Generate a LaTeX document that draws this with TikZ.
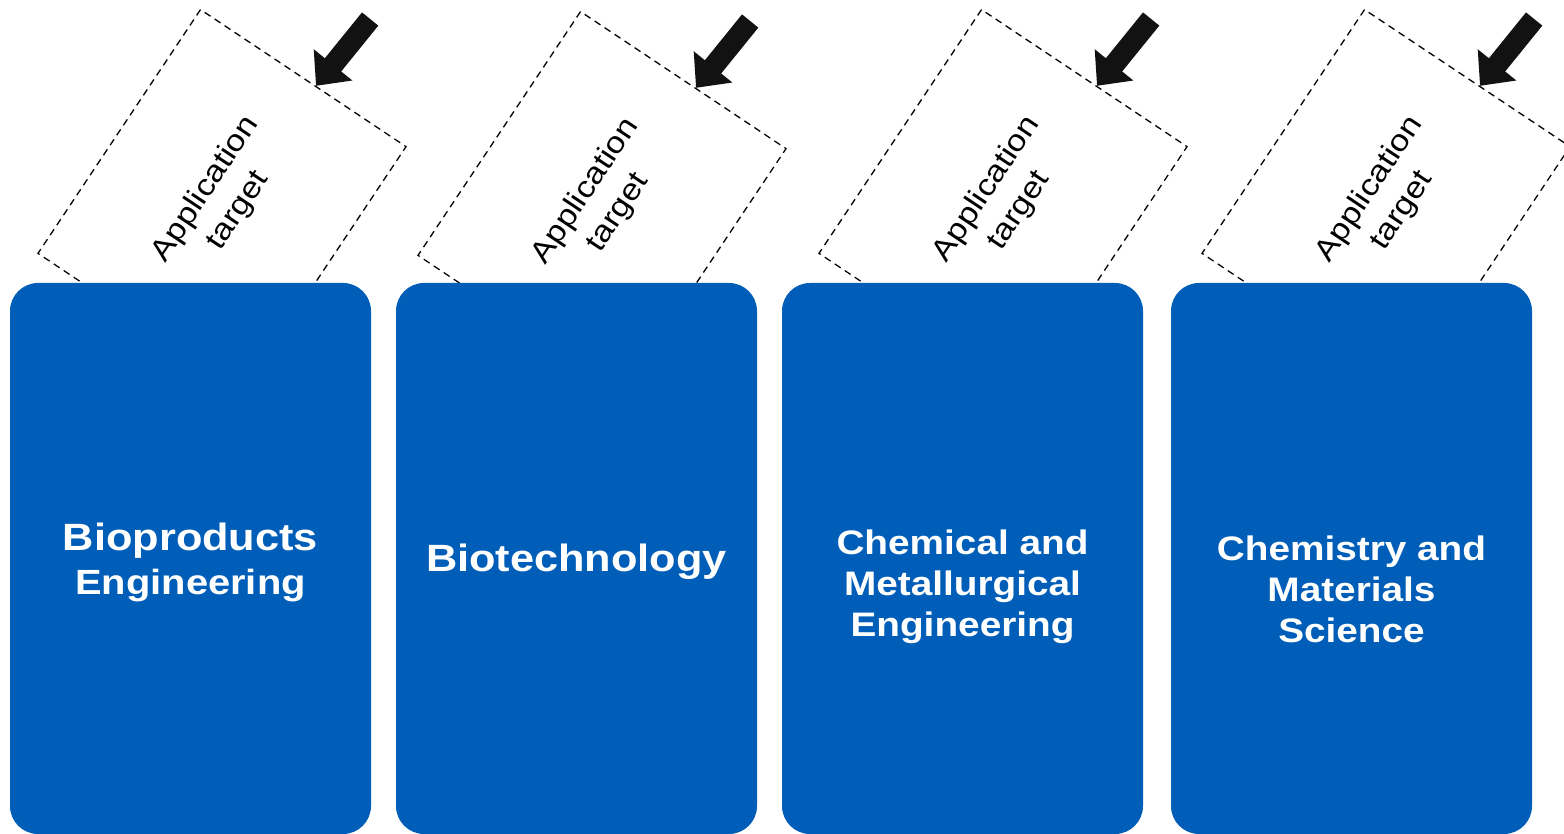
\documentclass[tikz,border=0pt]{standalone}
\usepackage{fontspec}
\setmainfont{Liberation Sans}[FakeStretch=1.14]
\usepackage{tikz}
\usetikzlibrary{arrows.meta,positioning,calc}
\definecolor{fieldblue}{RGB}{0,94,184}

\begin{document}
\begin{tikzpicture}[
    x=1pt, y=1pt,
    node distance=386pt,
    field/.style={
		rectangle,
		rounded corners=28pt,
		draw=none,
		fill=fieldblue,
		minimum width=361pt,
		minimum height=551pt
	},
	fieldname/.style={
		text=white,
		align=center,
		font=\bfseries\fontsize{38}{44}\selectfont
	},
	fieldsmall/.style={
		fieldname,
		font=\bfseries\fontsize{34}{41}\selectfont
	},
	target/.style={
		rectangle,
		draw=black,
		dashed,
		dash pattern=on 7pt off 5pt,
		line width=1.3pt,
		rotate=56.3,
		minimum width=293pt,
		minimum height=247pt,
		align=center,
		font=\fontsize{30}{39}\selectfont
	},
	pointer/.style={
		draw=black!93,
		line width=21pt,
		-{Triangle[width=48pt,length=27pt]}
	}
  ]

\useasboundingbox (0,0) rectangle (1564,-834);

% // dashed target frames (behind the boxes)
\node [target] (tgt1) at (222,-200)  {Application\\target};
\node [target] (tgt2) at (602,-202)  {Application\\target};
\node [target] (tgt3) at (1003,-200) {Application\\target};
\node [target] (tgt4) at (1386,-200) {Application\\target};

% // arrows onto the frames
\foreach \i in {1,...,4}{
  \coordinate (tip\i) at ($(tgt\i.north east)!0.56!(tgt\i.south east)$);
  \coordinate (tail\i) at ($(tip\i)+(51:86)$);
  \draw [pointer] (tail\i) -- (tip\i);
}

% // the four fields
\node [field] (bio) at (190.5,-558.5) {};
\node [field, right of=bio] (biotech) {};
\node [field, right of=biotech] (chem) {};
\node [field, right of=chem, xshift=3pt] (mat) {};

\node [fieldname] (bio-name) at ([yshift=-4pt]bio.center) {Bioproducts\\\fontsize{35}{44}\selectfont Engineering};
\node [fieldname] (biotech-name) at ([yshift=-3pt]biotech.center) {Biotechnology};
\node [fieldsmall] (chem-name) at ([yshift=-28pt]chem.center) {Chemical and\\Metallurgical\\Engineering};
\node [fieldsmall] (mat-name) at ([yshift=-31pt]mat.center) {Chemistry and\\Materials\\Science};

\end{tikzpicture}
\end{document}
